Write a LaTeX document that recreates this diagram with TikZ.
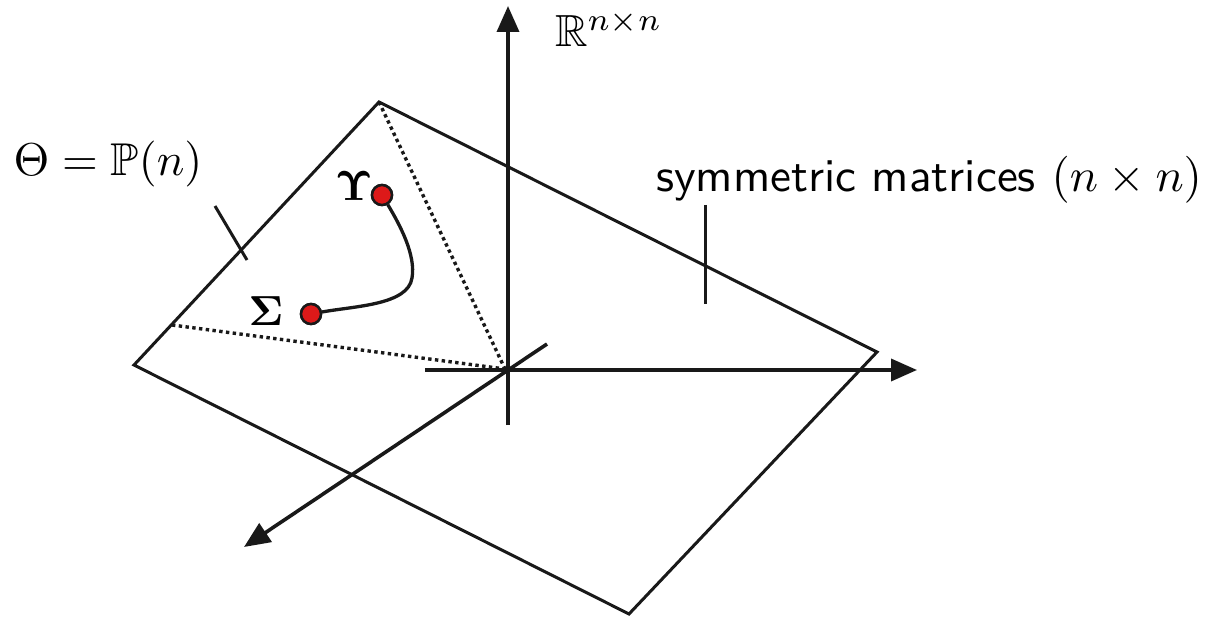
\documentclass[tikz,border=0pt]{standalone}
\usepackage{amsmath,amssymb,bm,graphicx}
\usetikzlibrary{arrows.meta}
\begin{document}
\begin{tikzpicture}[x=1pt,y=-1pt,
  edge/.style={line width=3pt,black!90},
  axis/.style={line width=3.6pt,black!90,-{Triangle[length=26pt,width=22pt]}},
  dotline/.style={line width=3.4pt,black!90,dash pattern=on 3.4pt off 3.4pt},
  pt/.style={circle,minimum size=20pt,inner sep=0pt,fill=red!85!black!90,draw=black!90,line width=2.5pt},
  lbl/.style={inner sep=0pt}]
\useasboundingbox (0,0) rectangle (1206,617);
% plane
\coordinate (T) at (379,102);
\coordinate (R) at (877,352);
\coordinate (B) at (629,614);
\coordinate (L) at (134,365);
\coordinate (O) at (505,369);
\coordinate (M) at (172,325);
\draw[edge,line join=miter] (T) -- (R) -- (B) -- (L) -- cycle;
% dotted
\draw[dotline] (T) -- (O);
\draw[dotline] (M) -- (O);
% axes
\coordinate (zs) at (508,425); \coordinate (ze) at (508,6);
\coordinate (xs) at (425,370); \coordinate (xe) at (917,370);
\coordinate (ys) at (547,344); \coordinate (ye) at (244,547);
\draw[axis] (zs) -- (ze);
\draw[axis] (xs) -- (xe);
\draw[axis] (ys) -- (ye);
% ticks
\coordinate (t1a) at (215,206); \coordinate (t1b) at (247,260);
\draw[edge] (t1a) -- (t1b);
\coordinate (t2a) at (705,205); \coordinate (t2b) at (705,304);
\draw[edge] (t2a) -- (t2b);
% curve and points
\node[pt] (U) at (382,195) {};
\node[pt] (S) at (311,314) {};
\draw[edge,line width=3.3pt] (U) .. controls (400,225) and (416,255) .. (412,278) .. controls (408,305) and (355,306) .. (S);
\node[pt] at (382,195) {};
\node[pt] at (311,314) {};
% labels
\node[lbl] (lu) at (354,186) {\scalebox{4.2}{$\bm{\Upsilon}$}};
\node[lbl] (ls) at (266,311) {\scalebox{4.2}{$\bm{\Sigma}$}};
\node[lbl] (lth) at (108,164) {\scalebox{4.6}{$\Theta=\mathbb{P}(n)$}};
\node[lbl] (lsym) at (929,180) {\scalebox{4.7}{\sffamily symmetric matrices $(n\times n)$}};
\node[lbl,anchor=west] (lr) at (555,29) {\scalebox{4.5}{$\mathbb{R}^{n\times n}$}};
\end{tikzpicture}
\end{document}
